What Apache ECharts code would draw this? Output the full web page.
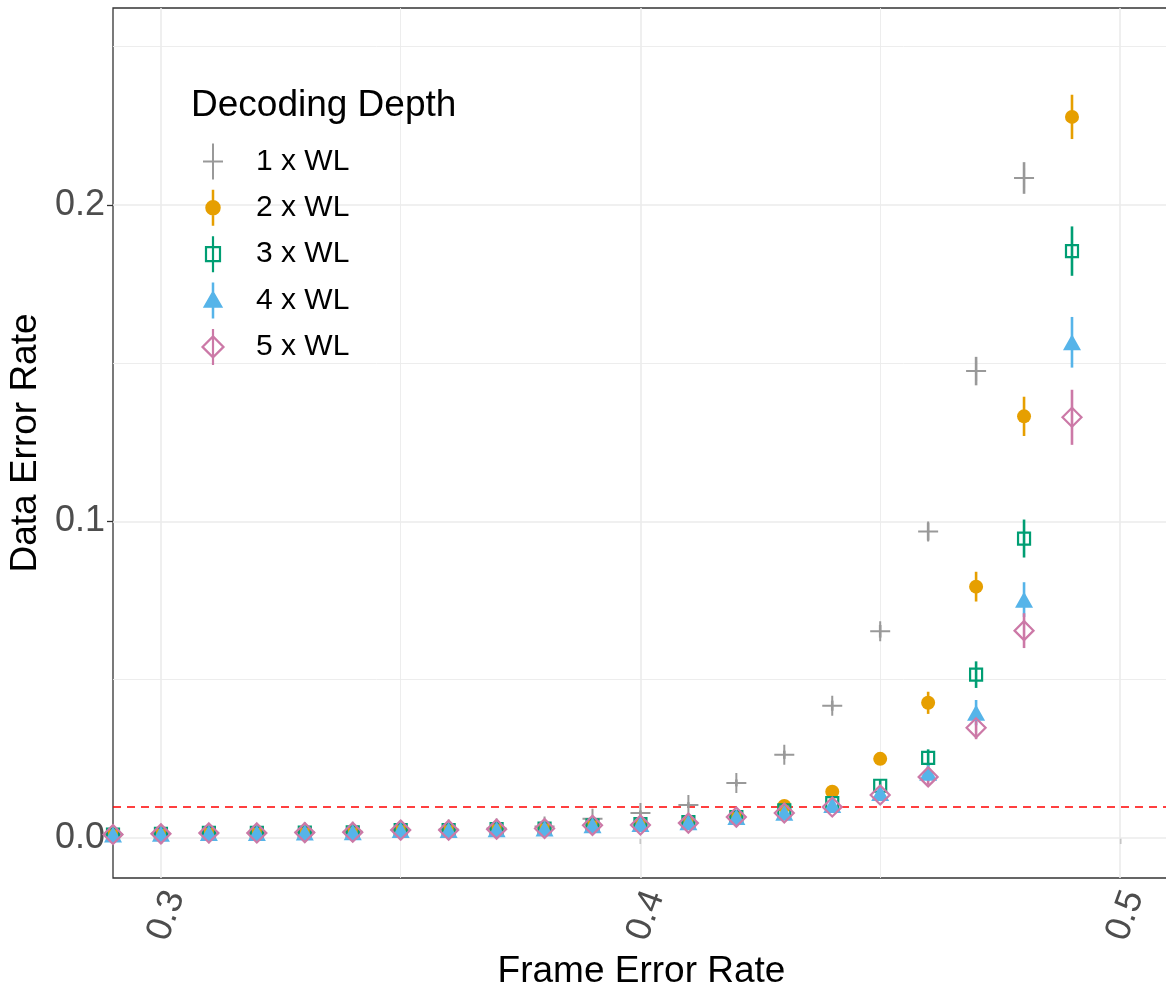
<!DOCTYPE html>
<html>
<head>
<meta charset="utf-8">
<script src="https://cdn.jsdelivr.net/npm/echarts@6/dist/echarts.min.js"></script>
<style>
html,body{margin:0;padding:0;overflow:hidden;background:#fff;}
#chart{width:1166px;height:987px;}
</style>
</head>
<body>
<div id="chart"></div>
<script>
// ---- data ----
var frameErrorRate = [0.29,0.30,0.31,0.32,0.33,0.34,0.35,0.36,0.37,0.38,0.39,0.40,0.41,0.42,0.43,0.44,0.45,0.46,0.47,0.48,0.49];
var seriesNames = ['1 x WL','2 x WL','3 x WL','4 x WL','5 x WL'];
var wl1 = [0.0012,0.0013,0.0015,0.0016,0.0018,0.0020,0.0025,0.0027,0.0030,0.0036,0.0061,0.0079,0.0104,0.0174,0.0263,0.0418,0.0653,0.0968,0.1475,0.2085,null];
var wl1Err = [0.0004,0.0004,0.0004,0.0004,0.0004,0.0004,0.0005,0.0005,0.0005,0.0006,0.0007,0.0008,0.0009,0.0011,0.0013,0.0016,0.0020,0.0028,0.0045,0.0050,null];
var wl2 = [0.0011,0.0013,0.0016,0.0016,0.0017,0.0018,0.0025,0.0025,0.0028,0.0030,0.0040,0.0044,0.0050,0.0066,0.0101,0.0146,0.0250,0.0427,0.0794,0.1332,0.2278];
var wl2Err = [0.0004,0.0004,0.0004,0.0004,0.0004,0.0004,0.0005,0.0005,0.0005,0.0005,0.0006,0.0006,0.0007,0.0008,0.0010,0.0012,0.0018,0.0035,0.0047,0.0062,0.0070];
var wl3 = [0.0011,0.0013,0.0016,0.0016,0.0017,0.0018,0.0025,0.0025,0.0028,0.0030,0.0040,0.0044,0.0050,0.0066,0.0087,0.0110,0.0165,0.0253,0.0516,0.0946,0.1854];
var wl3Err = [0.0004,0.0004,0.0004,0.0004,0.0004,0.0004,0.0005,0.0005,0.0005,0.0005,0.0006,0.0006,0.0007,0.0008,0.0009,0.0011,0.0018,0.0027,0.0042,0.0060,0.0078];
var wl4 = [0.0011,0.0013,0.0016,0.0016,0.0017,0.0018,0.0025,0.0025,0.0028,0.0030,0.0040,0.0044,0.0050,0.0066,0.0080,0.0104,0.0142,0.0206,0.0396,0.0753,0.1566];
var wl4Err = [0.0004,0.0004,0.0004,0.0004,0.0004,0.0004,0.0005,0.0005,0.0005,0.0005,0.0006,0.0006,0.0007,0.0008,0.0009,0.0011,0.0018,0.0027,0.0040,0.0055,0.0080];
var wl5 = [0.0011,0.0013,0.0016,0.0016,0.0017,0.0018,0.0025,0.0025,0.0028,0.0030,0.0040,0.0041,0.0047,0.0066,0.0079,0.0098,0.0136,0.0193,0.0348,0.0655,0.1329];
var wl5Err = [0.0004,0.0004,0.0004,0.0004,0.0004,0.0004,0.0005,0.0005,0.0005,0.0005,0.0006,0.0006,0.0007,0.0008,0.0009,0.0011,0.0018,0.0025,0.0036,0.0055,0.0087];
var thresholdValue = 0.01;
var xTickLabels = [0.3,0.4,0.5];
var yTickLabels = [0.0,0.1,0.2];
var xGridMajor = [0.3,0.4,0.5];
var xGridMinor = [0.35,0.45];
var yGridMajor = [0.0,0.1,0.2];
var yGridMinor = [0.05,0.15,0.25];

// ---- styling ----
var colors = ['#999999','#E69F00','#009E73','#56B4E9','#CC79A7'];
var FONT = "'Liberation Sans', Arial, Helvetica, sans-serif";
var values = [wl1,wl2,wl3,wl4,wl5];
var errs = [wl1Err,wl2Err,wl3Err,wl4Err,wl5Err];

var symbolDefs = [
  {symbol:'path://M10,0L10,20M0,10L20,10', size:20, itemStyle:{color:'none', borderColor:colors[0], borderWidth:2, opacity:1}},
  {symbol:'circle', size:14, itemStyle:{color:colors[1], borderWidth:0, opacity:1}},
  {symbol:'rect', size:12, itemStyle:{color:'rgba(0,0,0,0)', borderColor:colors[2], borderWidth:2.2, opacity:1}},
  {symbol:'triangle', size:[18,16], itemStyle:{color:colors[3], borderWidth:0, opacity:1}},
  {symbol:'diamond', size:19, itemStyle:{color:'rgba(0,0,0,0)', borderColor:colors[4], borderWidth:2.2, opacity:1}}
];
var legendIcons = [
  {icon:'path://M0,-18L0,18M-10,0L10,0', itemStyle:{color:'none', borderColor:colors[0], borderWidth:2, opacity:1}},
  {icon:'path://M0,-18L0,18M6.5,0A6.5,6.5 0 1,1 -6.5,0A6.5,6.5 0 1,1 6.5,0Z', itemStyle:{color:colors[1], borderColor:colors[1], borderWidth:2.5, opacity:1}},
  {icon:'path://M0,-18L0,18M-7,-7L7,-7L7,7L-7,7Z', itemStyle:{color:'none', borderColor:colors[2], borderWidth:2.2, opacity:1}},
  {icon:'path://M0,-18L0,18M0,-8L8,6L-8,6Z', itemStyle:{color:colors[3], borderColor:colors[3], borderWidth:2.5, opacity:1}},
  {icon:'path://M0,-18L0,18M0,-10.5L10.5,0L0,10.5L-10.5,0Z', itemStyle:{color:'none', borderColor:colors[4], borderWidth:2.2, opacity:1}}
];

var series = [];
// gridlines (behind everything)
var gridLineData = [];
xGridMajor.forEach(function(v){ gridLineData.push({xAxis:v, lineStyle:{color:'#EBEBEB', width:1.6, type:'solid'}}); });
xGridMinor.forEach(function(v){ gridLineData.push({xAxis:v, lineStyle:{color:'#EBEBEB', width:0.9, type:'solid'}}); });
yGridMajor.forEach(function(v){ gridLineData.push({yAxis:v, lineStyle:{color:'#EBEBEB', width:1.6, type:'solid'}}); });
yGridMinor.forEach(function(v){ gridLineData.push({yAxis:v, lineStyle:{color:'#EBEBEB', width:0.9, type:'solid'}}); });
series.push({
  name:'grid', type:'line', data:[], silent:true,
  markLine:{silent:true, symbol:['none','none'], z:1, label:{show:false}, emphasis:{disabled:true}, animation:false, data:gridLineData}
});
series.push({
  name:'threshold', type:'line', data:[], silent:true,
  markLine:{silent:true, symbol:['none','none'], z:1, label:{show:false}, emphasis:{disabled:true}, animation:false,
    data:[{yAxis:thresholdValue, lineStyle:{color:'#FF0000', width:1.6, type:[8,6]}}]}
});

for (var s=0; s<5; s++) {
  (function(s){
    var ebData = [], ptData = [];
    frameErrorRate.forEach(function(x,i){
      var v = values[s][i];
      if (v === null || v === undefined) return;
      var e = errs[s][i];
      ebData.push([x, v - e, v + e]);
      ptData.push([x, v]);
    });
    series.push({
      name: seriesNames[s] + ' err', type:'custom', z:2, clip:true, silent:true,
      encode:{x:0, y:[1,2]},
      data: ebData,
      renderItem: function(params, api){
        var p1 = api.coord([api.value(0), api.value(1)]);
        var p2 = api.coord([api.value(0), api.value(2)]);
        return {type:'line', shape:{x1:p1[0], y1:p1[1], x2:p2[0], y2:p2[1]},
                style:{stroke:colors[s], lineWidth:2.6, opacity:1}};
      }
    });
    series.push({
      name: seriesNames[s], type:'scatter', z:3 + s*0.1, clip:true, silent:true,
      symbol: symbolDefs[s].symbol, symbolSize: symbolDefs[s].size,
      itemStyle: symbolDefs[s].itemStyle,
      emphasis:{disabled:true},
      data: ptData
    });
  })(s);
}

var chart = echarts.init(document.getElementById('chart'), null, {renderer:'canvas'});
chart.setOption({
  animation:false,
  backgroundColor:'#ffffff',
  title:{
    text:'Decoding Depth', left:191, top:87, padding:0,
    textStyle:{fontFamily:FONT, fontSize:37, fontWeight:'normal', color:'#000000'}
  },
  legend:{
    orient:'vertical', left:200, top:141, padding:0,
    itemWidth:76, itemHeight:36, itemGap:6.6, selectedMode:false,
    textStyle:{fontFamily:FONT, fontSize:30, color:'#000000'},
    data: seriesNames.map(function(n,i){
      return {name:n, icon:legendIcons[i].icon, itemStyle:legendIcons[i].itemStyle};
    })
  },
  grid:{left:113, top:8, right:-4, bottom:109, outerBoundsMode:'none', containLabel:false,
    show:true, borderColor:'#333333', borderWidth:1.3, backgroundColor:'transparent'},
  xAxis:{
    type:'value', min:0.29, max:0.51044,
    name:'Frame Error Rate', nameLocation:'middle', nameGap:70,
    nameTextStyle:{fontFamily:FONT, fontSize:37, color:'#000000'},
    axisLine:{show:false},
    axisTick:{show:true, length:6, lineStyle:{color:'#333333', width:1.3}, customValues:xTickLabels},
    axisLabel:{show:true, rotate:70, margin:9, verticalAlign:'top', lineHeight:30, fontFamily:FONT, fontSize:36, color:'#4D4D4D',
      customValues:xTickLabels, formatter:function(v){ return v.toFixed(1); }},
    splitLine:{show:false}
  },
  yAxis:{
    type:'value', min:-0.01264, max:0.2622,
    name:'Data Error Rate', nameLocation:'middle', nameGap:57, nameRotate:90,
    nameTextStyle:{fontFamily:FONT, fontSize:37, color:'#000000'},
    axisLine:{show:false},
    axisTick:{show:true, length:6, lineStyle:{color:'#333333', width:1.3}, customValues:yTickLabels},
    axisLabel:{show:true, margin:8, fontFamily:FONT, fontSize:36, color:'#4D4D4D',
      customValues:yTickLabels, formatter:function(v){ return v.toFixed(1); }},
    splitLine:{show:false}
  },
  series: series
});
</script>
</body>
</html>
